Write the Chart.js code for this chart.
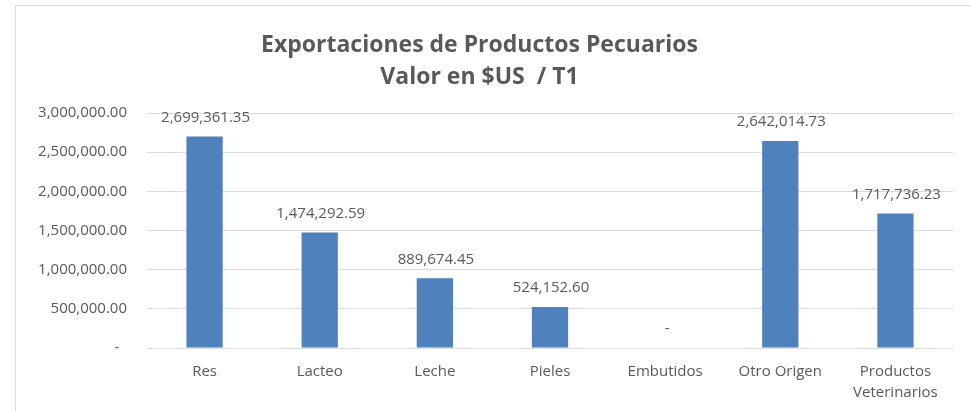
<!DOCTYPE html>
<html>
<head>
<meta charset="utf-8">
<script src="https://cdn.jsdelivr.net/npm/chart.js@4.4.0/dist/chart.umd.min.js"></script>
<style>
html,body{margin:0;padding:0;background:#fff;}
#wrap{position:absolute;left:0;top:0;width:970px;height:411px;}
</style>
</head>
<body>
<div id="wrap"><canvas id="c" width="970" height="411"></canvas></div>
<script>
const categories = ["Res", "Lacteo", "Leche", "Pieles", "Embutidos", "Otro Origen", ["Productos", "Veterinarios"]];
const values = [2699361.35, 1474292.59, 889674.45, 524152.60, 0, 2642014.73, 1717736.23];
const titleLines = ["Exportaciones de Productos Pecuarios", "Valor en $US  / T1"];
const yTicks = [0, 500000, 1000000, 1500000, 2000000, 2500000, 3000000];

const FONT = "'Open Sans', 'Noto Sans', sans-serif";
const TEXT = '#595959';

function fmt(v) {
  if (v === 0) return '-';
  const parts = v.toFixed(2).split('.');
  parts[0] = parts[0].replace(/\B(?=(\d{3})+(?!\d))/g, ',');
  return parts.join('.');
}

const borderPlugin = {
  id: 'border',
  beforeDraw(chart) {
    const ctx = chart.ctx;
    ctx.save();
    ctx.fillStyle = '#fff';
    ctx.fillRect(0, 0, chart.width, chart.height);
    ctx.strokeStyle = '#d9d9d9';
    ctx.lineWidth = 1;
    ctx.strokeRect(15.5, 5.5, 1000, 1000);
    ctx.restore();
  }
};

const labelPlugin = {
  id: 'vlabels',
  afterDatasetsDraw(chart) {
    const ctx = chart.ctx;
    const meta = chart.getDatasetMeta(0);
    ctx.save();
    ctx.font = "15px " + FONT;
    ctx.fillStyle = TEXT;
    ctx.textAlign = 'center';
    ctx.textBaseline = 'middle';
    meta.data.forEach((bar, i) => {
      const v = chart.data.datasets[0].data[i];
      ctx.fillText(fmt(v), bar.x + (v === 0 ? 2 : 1), bar.y - 19);
    });
    ctx.restore();
  }
};

new Chart(document.getElementById('c'), {
  type: 'bar',
  data: {
    labels: categories,
    datasets: [{
      data: values,
      backgroundColor: '#4f81bd',
      borderWidth: 0,
      barPercentage: 0.315,
      categoryPercentage: 1.0
    }]
  },
  options: {
    responsive: false,
    animation: false,
    devicePixelRatio: 1,
    layout: { padding: { left: 6, right: 17, top: 0, bottom: 9 } },
    plugins: {
      legend: { display: false },
      tooltip: { enabled: false },
      title: {
        display: true,
        text: titleLines,
        color: TEXT,
        font: { family: FONT, size: 23, weight: 'bold', lineHeight: 1.4 },
        padding: { top: 29, bottom: 19.6 }
      }
    },
    scales: {
      x: {
        afterFit(scale) { scale.height = 54; },
        grid: { display: false, drawTicks: false },
        border: { display: false },
        ticks: {
          color: TEXT,
          font: { family: FONT, size: 15, lineHeight: 1.35 },
          padding: 14,
          maxRotation: 0,
          autoSkip: false
        }
      },
      y: {
        min: 0,
        max: 3000000,
        afterFit(scale) { scale.width = 141; },
        afterBuildTicks(scale) { scale.ticks = yTicks.map(v => ({ value: v })); },
        grid: { color: '#d9d9d9', drawTicks: false, lineWidth: 1 },
        border: { display: false },
        ticks: {
          color: TEXT,
          font: { family: FONT, size: 15 },
          padding: 20,
          callback: (v) => v === 0 ? '-  ' : fmt(v)
        }
      }
    }
  },
  plugins: [borderPlugin, labelPlugin]
});
</script>
</body>
</html>
